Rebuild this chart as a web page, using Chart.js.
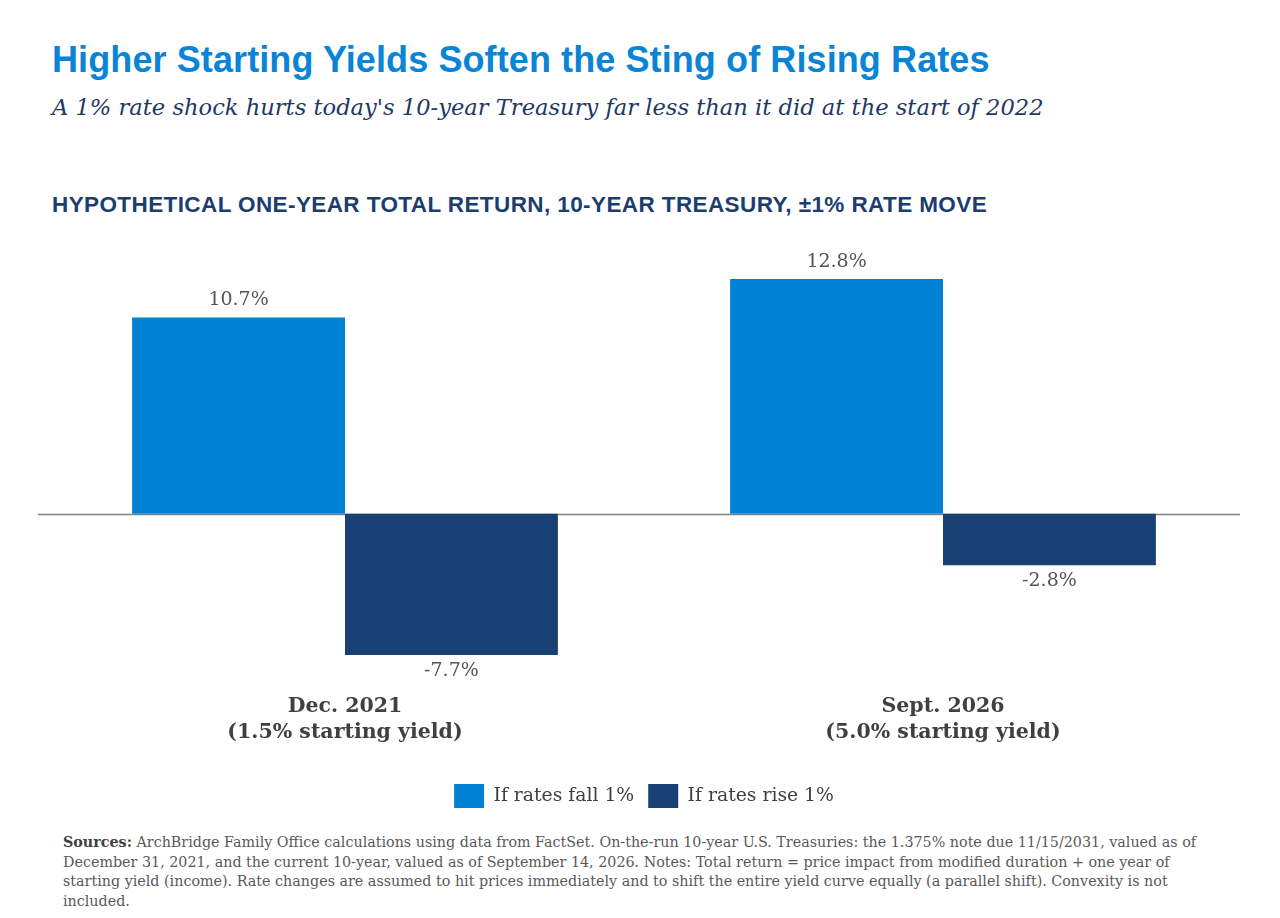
<!DOCTYPE html>
<html>
<head>
<meta charset="utf-8">
<script src="https://cdn.jsdelivr.net/npm/chart.js@4.4.1/dist/chart.umd.min.js"></script>
<style>
  html, body { margin: 0; padding: 0; background: #ffffff; width: 1280px; height: 918px; overflow: hidden; }
  #title { position: absolute; left: 52px; top: 38px; font-family: "Liberation Sans", Arial, sans-serif; font-weight: 700; font-size: 36px; line-height: 44px; color: #0A84D6; letter-spacing: 0.1px; white-space: nowrap; }
  #subtitle { position: absolute; left: 52px; top: 92px; font-family: "DejaVu Serif", serif; font-style: italic; font-size: 22.6px; line-height: 30px; color: #1F3864; white-space: nowrap; letter-spacing: 0px; }
  #header { position: absolute; left: 52px; top: 191px; font-family: "Liberation Sans", Arial, sans-serif; font-weight: 700; font-size: 22.5px; line-height: 28px; color: #1B3D70; white-space: nowrap; letter-spacing: 0.4px; }
  #chartWrap { position: absolute; left: 0; top: 240px; width: 1280px; height: 590px; }
  #notes { position: absolute; left: 63px; top: 833px; width: 1200px; font-family: "DejaVu Serif", serif; font-size: 14.3px; line-height: 19.6px; color: #595959; white-space: nowrap; }
  #notes b { color: #404040; }
</style>
</head>
<body>
<div id="title">Higher Starting Yields Soften the Sting of Rising Rates</div>
<div id="subtitle">A 1% rate shock hurts today's 10-year Treasury far less than it did at the start of 2022</div>
<div id="header">HYPOTHETICAL ONE-YEAR TOTAL RETURN, 10-YEAR TREASURY, ±1% RATE MOVE</div>
<div id="chartWrap"><canvas id="c"></canvas></div>
<div id="notes"><b>Sources:</b> ArchBridge Family Office calculations using data from FactSet. On-the-run 10-year U.S. Treasuries: the 1.375% note due 11/15/2031, valued as of<br>December 31, 2021, and the current 10-year, valued as of September 14, 2026. Notes: Total return = price impact from modified duration + one year of<br>starting yield (income). Rate changes are assumed to hit prices immediately and to shift the entire yield curve equally (a parallel shift). Convexity is not<br>included.</div>
<script>
const categories = [["Dec. 2021", "(1.5% starting yield)"], ["Sept. 2026", "(5.0% starting yield)"]];
const seriesNames = ["If rates fall 1%", "If rates rise 1%"];
const ratesFall = [10.7, 12.8];
const ratesRise = [-7.7, -2.8];
const seriesColors = ["#0081D5", "#184073"];

const zeroLine = {
  id: 'zeroLine',
  beforeDatasetsDraw(chart) {
    const ctx = chart.ctx;
    const y = Math.round(chart.scales.y.getPixelForValue(0)) + 0.5;
    ctx.save();
    ctx.strokeStyle = '#808080';
    ctx.lineWidth = 1.3;
    ctx.beginPath();
    ctx.moveTo(chart.chartArea.left - 8, y);
    ctx.lineTo(chart.chartArea.right - 2, y);
    ctx.stroke();
    ctx.restore();
  }
};

const valueLabels = {
  id: 'valueLabels',
  afterDatasetsDraw(chart) {
    const ctx = chart.ctx;
    ctx.save();
    ctx.font = '19px "DejaVu Serif", serif';
    ctx.fillStyle = '#555555';
    ctx.textAlign = 'center';
    ctx.textBaseline = 'middle';
    chart.data.datasets.forEach((ds, di) => {
      const meta = chart.getDatasetMeta(di);
      meta.data.forEach((bar, i) => {
        const v = ds.data[i];
        const txt = v.toFixed(1) + '%';
        const y = v >= 0 ? bar.y - 17 : bar.y + 16;
        ctx.fillText(txt, bar.x, y);
      });
    });
    ctx.restore();
  }
};

new Chart(document.getElementById('c'), {
  type: 'bar',
  data: {
    labels: categories,
    datasets: [
      { label: seriesNames[0], data: ratesFall, backgroundColor: seriesColors[0] },
      { label: seriesNames[1], data: ratesRise, backgroundColor: seriesColors[1] }
    ]
  },
  options: {
    responsive: true,
    maintainAspectRatio: false,
    animation: false,
    layout: { padding: { left: 46, right: 38, top: 17, bottom: 12 } },
    datasets: { bar: { categoryPercentage: 0.712, barPercentage: 1.0 } },
    scales: {
      x: {
        grid: { display: false },
        border: { display: false },
        afterFit: (scale) => { scale.height += 17; },
        ticks: {
          color: '#404040',
          padding: 7,
          font: { family: '"DejaVu Serif", serif', size: 20.5, weight: 'bold', lineHeight: 1.27 }
        }
      },
      y: {
        min: -9,
        max: 14,
        display: false
      }
    },
    plugins: {
      legend: {
        position: 'bottom',
        labels: {
          boxWidth: 30,
          boxHeight: 24,
          padding: 14,
          color: '#404040',
          font: { family: '"DejaVu Serif", serif', size: 18.8 }
        }
      },
      tooltip: { enabled: false }
    }
  },
  plugins: [zeroLine, valueLabels]
});
</script>
</body>
</html>
